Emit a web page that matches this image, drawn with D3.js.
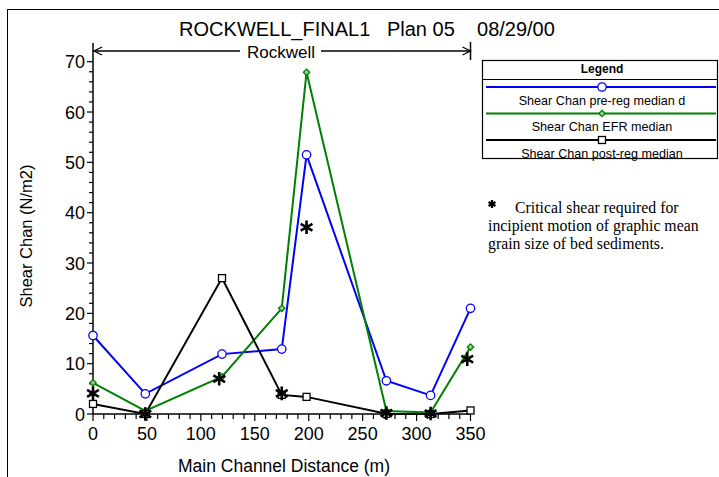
<!doctype html>
<html lang="en">
<head>
<meta charset="utf-8">
<title>ROCKWELL_FINAL1 Plan 05</title>
<style type="text/css">
  body { margin: 0; background-color: #ffffff; }
  text { font-family: "Liberation Sans", Arial, sans-serif; }
</style>
</head>
<body>
<script src="https://cdn.jsdelivr.net/npm/d3@7"></script>
<script>

// data
var distance = [0, 48.5, 119.6, 175, 198, 272, 313, 350];
var preReg   = [15.6, 4.0, 11.9, 12.9, 51.5, 6.6, 3.7, 21.0];
var efr      = [6.2, 0.6, 7.4, 21.0, 67.9, 0.6, 0.3, 13.3];
var postReg  = [2.0, 0.0, 27.0, 3.8, 3.4, 0.05, 0.0, 0.7];
var critX    = [0, 48.5, 117, 175, 198, 272, 313, 347];
var critY    = [4.1, 0.0, 7.0, 4.1, 37.1, 0.2, 0.1, 10.9];
var xTicks   = [0, 50, 100, 150, 200, 250, 300, 350];
var yTicks   = [0, 10, 20, 30, 40, 50, 60, 70];
var seriesNames = ["Shear Chan pre-reg median d", "Shear Chan EFR median", "Shear Chan post-reg median"];

var w = 719, h = 477;

var svg = d3.select("body").append("svg")
  .attr("width", w)
  .attr("height", h);

// outer frame
svg.append("rect")
  .attr("x", 7.5).attr("y", 9.5)
  .attr("width", 800).attr("height", 600)
  .style("fill", "none").style("stroke", "#000");

var x = d3.scaleLinear().domain([0, 350]).range([93, 470.5]);
var y = d3.scaleLinear().domain([0, 70]).range([414, 61.7]);

// title
svg.append("text")
  .attr("x", 367).attr("y", 36)
  .attr("text-anchor", "middle")
  .attr("xml:space", "preserve")
  .style("font-size", "20px")
  .text("ROCKWELL_FINAL1   Plan 05    08/29/00");

// axes
var xAxis = svg.append("g").attr("transform", "translate(0,414)");
xAxis.append("line").attr("x1", x(0)).attr("x2", x(350)).style("stroke", "#000").style("stroke-width", 1.5);
xAxis.selectAll("line.minor").data(d3.range(0, 351, 10)).enter().append("line")
  .attr("class", "minor")
  .attr("x1", d => x(d)).attr("x2", d => x(d))
  .attr("y1", 0).attr("y2", d => d % 50 === 0 ? 7 : 5)
  .style("stroke", "#000").style("stroke-width", 1.2);
xAxis.selectAll("text").data(xTicks).enter().append("text")
  .attr("x", d => x(d)).attr("y", 26)
  .attr("text-anchor", "middle")
  .style("font-size", "18px")
  .text(d => d);

var yAxis = svg.append("g").attr("transform", "translate(93,0)");
yAxis.append("line").attr("y1", 414).attr("y2", 43).style("stroke", "#000").style("stroke-width", 1.5);
yAxis.selectAll("line.minor").data(d3.range(0, 71, 2)).enter().append("line")
  .attr("class", "minor")
  .attr("y1", d => y(d)).attr("y2", d => y(d))
  .attr("x1", d => d % 10 === 0 ? -6 : -4).attr("x2", 0)
  .style("stroke", "#000").style("stroke-width", 1.2);
yAxis.selectAll("text").data(yTicks).enter().append("text")
  .attr("x", -8).attr("y", d => y(d) + 6.5)
  .attr("text-anchor", "end")
  .style("font-size", "18px")
  .text(d => d);

// axis titles
svg.append("text")
  .attr("x", 284).attr("y", 472)
  .attr("text-anchor", "middle")
  .style("font-size", "17.5px")
  .text("Main Channel Distance (m)");
svg.append("text")
  .attr("transform", "translate(32,236) rotate(-90)")
  .attr("text-anchor", "middle")
  .style("font-size", "16.5px")
  .text("Shear Chan (N/m2)");

// reach bracket
var by = 51;
svg.append("line").attr("x1", x(0) + 1).attr("x2", 240).attr("y1", by).attr("y2", by).style("stroke", "#000").style("stroke-width", 1.3);
svg.append("line").attr("x1", 321).attr("x2", x(350)).attr("y1", by).attr("y2", by).style("stroke", "#000").style("stroke-width", 1.3);
svg.append("path").attr("d", d3.line()([[x(0) + 9, by - 4], [x(0) + 1, by], [x(0) + 9, by + 4]])).style("fill", "none").style("stroke", "#000").style("stroke-width", 1.3);
svg.append("path").attr("d", d3.line()([[x(350) - 8, by - 4], [x(350), by], [x(350) - 8, by + 4]])).style("fill", "none").style("stroke", "#000").style("stroke-width", 1.3);
svg.append("line").attr("x1", x(350)).attr("x2", x(350)).attr("y1", 42).attr("y2", 60).style("stroke", "#000").style("stroke-width", 1.5);
svg.append("text")
  .attr("x", 281).attr("y", 58)
  .attr("text-anchor", "middle")
  .style("font-size", "17px")
  .text("Rockwell");

// series
var series = [
  { name: seriesNames[0], values: preReg, color: "#0000ff", marker: "circle" },
  { name: seriesNames[1], values: efr, color: "#008000", marker: "diamond" },
  { name: seriesNames[2], values: postReg, color: "#000000", marker: "square" }
];

var line = d3.line().x(d => x(d[0])).y(d => y(d[1]));

function drawMarker(g, kind, color, cx, cy) {
  if (kind === "circle") {
    g.append("circle").attr("cx", cx).attr("cy", cy).attr("r", 4.2)
      .style("fill", "#fff").style("stroke", color).style("stroke-width", 1.3);
  } else if (kind === "diamond") {
    g.append("path").attr("transform", "translate(" + cx + "," + cy + ")")
      .attr("d", "M0,-3.2L3.2,0L0,3.2L-3.2,0Z")
      .style("fill", "#9c9").style("stroke", color).style("stroke-width", 1.3);
  } else {
    g.append("rect").attr("x", cx - 3.5).attr("y", cy - 3.5).attr("width", 7).attr("height", 7)
      .style("fill", "#fff").style("stroke", color).style("stroke-width", 1.3);
  }
}

var plot = svg.append("g");
series.forEach(function(s) {
  var pts = distance.map((d, i) => [d, s.values[i]]);
  plot.append("path")
    .attr("d", line(pts))
    .style("fill", "none")
    .style("stroke", s.color)
    .style("stroke-width", 2);
});
series.forEach(function(s) {
  distance.forEach(function(d, i) {
    drawMarker(plot, s.marker, s.color, x(d), y(s.values[i]));
  });
});

// critical shear asterisks
var star = d3.symbol().type(d3.symbolAsterisk).size(130);
plot.selectAll("path.crit").data(critX).enter().append("path")
  .attr("class", "crit")
  .attr("transform", (d, i) => "translate(" + x(d) + "," + y(critY[i]) + ")")
  .attr("d", star)
  .style("fill", "none").style("stroke", "#000").style("stroke-width", 2.6);

// legend
var lg = svg.append("g");
lg.append("rect").attr("x", 482.5).attr("y", 60.5).attr("width", 235).attr("height", 98)
  .style("fill", "#fff").style("stroke", "#000").style("stroke-width", 1.2);
lg.append("line").attr("x1", 482.5).attr("x2", 717.5).attr("y1", 79.5).attr("y2", 79.5)
  .style("stroke", "#000").style("stroke-width", 1.2);
lg.append("text").attr("x", 602).attr("y", 72.5).attr("text-anchor", "middle")
  .style("font-size", "12px").style("font-weight", "bold").text("Legend");
series.forEach(function(s, i) {
  var ly = 87 + i * 26.5;
  lg.append("line").attr("x1", 486).attr("x2", 716).attr("y1", ly).attr("y2", ly)
    .style("stroke", s.color).style("stroke-width", 2);
  drawMarker(lg, s.marker, s.color, 602, ly);
  lg.append("text").attr("x", 602).attr("y", ly + 17.5).attr("text-anchor", "middle")
    .style("font-size", "12.6px").text(s.name);
});

// note about asterisks
var note = svg.append("g");
note.append("path")
  .attr("transform", "translate(492,204)")
  .attr("d", d3.symbol().type(d3.symbolAsterisk).size(45))
  .style("fill", "none").style("stroke", "#000").style("stroke-width", 2.2);
var noteLines = [["Critical shear required for", 515], ["incipient motion of graphic mean", 488], ["grain size of bed sediments.", 488]];
note.selectAll("text").data(noteLines).enter().append("text")
  .attr("x", d => d[1]).attr("y", (d, i) => 213 + i * 18)
  .style("font-family", "'Liberation Serif', 'Times New Roman', serif")
  .style("font-size", "15.8px")
  .text(d => d[0]);

</script>
</body>
</html>
